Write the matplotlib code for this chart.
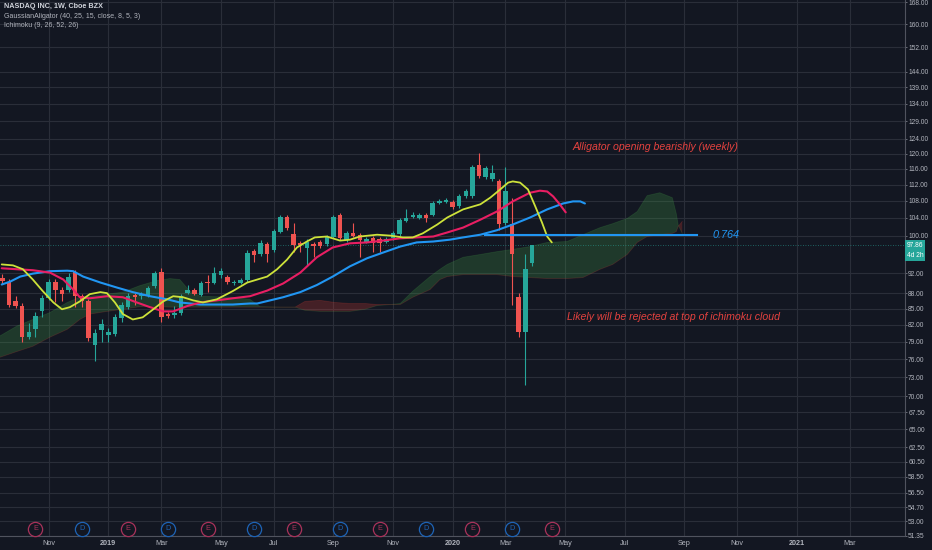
import numpy as np
import pandas as pd
import matplotlib
matplotlib.use('Agg')
import matplotlib.pyplot as plt
import matplotlib.transforms as mtransforms
from matplotlib.ticker import NullLocator

# Weekly NASDAQ INC candles, first bar is the week of 2018-09-17
first_week = '2018-09-17'
origin = pd.Timestamp('2018-09-24')  # x = weeks since this bar

opens = [91.0, 90.3, 86.4, 85.6, 79.9, 81.2, 84.5, 87.1, 90.3, 88.7,
         88.7, 92.3, 87.4, 86.4, 78.5, 81.0, 80.1, 80.3, 83.2, 85.3,
         87.6, 87.4, 87.6, 89.5, 92.3, 84.0, 83.8, 84.2, 88.1, 88.7,
         87.7, 90.3, 90.1, 91.7, 91.3, 90.0, 90.1, 90.7, 96.7, 95.9,
         98.2, 96.9, 100.9, 104.3, 100.4, 98.4, 97.3, 98.2, 98.6, 98.2,
         99.7, 104.7, 99.1, 100.6, 100.2, 98.7, 99.5, 99.3, 98.7, 99.5,
         100.4, 103.4, 104.3, 104.1, 104.8, 104.8, 107.6, 107.8, 107.8, 106.8,
         109.1, 109.1, 116.9, 113.8, 113.3, 112.8, 102.9, 102.7, 87.2, 80.7,
         94.0]
highs = [91.8, 90.8, 87.4, 86.0, 82.3, 84.3, 87.7, 90.8, 90.9, 89.2,
         92.0, 92.7, 87.8, 86.8, 81.3, 83.0, 81.5, 84.0, 86.3, 88.0,
         88.1, 88.3, 89.5, 92.5, 93.0, 84.4, 85.5, 87.8, 89.7, 89.1,
         90.5, 91.7, 93.3, 93.0, 91.7, 90.6, 91.1, 96.8, 97.1, 99.0,
         98.7, 101.5, 104.8, 104.8, 102.9, 98.8, 99.2, 98.7, 99.0, 100.1,
         104.7, 105.2, 101.0, 102.9, 100.6, 99.8, 99.9, 99.7, 99.7, 101.0,
         104.0, 106.2, 105.3, 105.2, 105.2, 108.0, 108.5, 108.8, 108.2, 109.7,
         110.8, 116.9, 120.2, 116.6, 116.9, 113.3, 116.4, 108.8, 88.0, 95.9,
         98.0]
lows = [89.8, 85.4, 85.2, 79.0, 79.4, 79.8, 83.4, 86.6, 86.2, 86.4,
        88.3, 85.3, 85.3, 79.2, 75.6, 79.0, 79.0, 80.0, 82.6, 85.0,
        85.8, 86.9, 87.3, 89.0, 82.6, 83.2, 83.3, 83.9, 87.8, 87.6,
        87.4, 88.3, 89.8, 91.0, 89.9, 89.6, 89.8, 90.3, 94.4, 95.5,
        94.4, 96.5, 100.5, 101.3, 96.5, 96.5, 93.5, 95.4, 97.2, 97.8,
        99.4, 99.1, 98.7, 99.6, 95.4, 98.3, 96.5, 96.5, 98.3, 99.1,
        100.0, 103.0, 103.9, 103.8, 103.1, 104.4, 107.2, 107.4, 106.0, 106.4,
        108.7, 108.7, 113.6, 113.3, 112.8, 101.3, 102.4, 85.8, 79.8, 71.8,
        93.4]
closes = [90.4, 85.8, 85.6, 79.9, 80.8, 83.6, 87.1, 90.3, 88.7, 87.9,
          91.3, 87.4, 86.4, 79.6, 80.6, 82.1, 80.8, 83.4, 85.8, 87.4,
          87.2, 87.9, 89.1, 92.1, 83.4, 83.6, 84.2, 87.4, 88.7, 87.9,
          90.1, 90.1, 92.1, 92.5, 90.3, 90.2, 90.7, 96.3, 95.7, 98.4,
          96.1, 101.1, 104.3, 101.7, 98.0, 98.0, 98.7, 97.7, 97.7, 99.7,
          104.3, 99.5, 100.6, 100.0, 99.1, 99.3, 98.4, 98.4, 99.3, 100.6,
          103.6, 103.9, 104.8, 104.7, 103.9, 107.6, 108.1, 108.3, 106.6, 109.3,
          110.3, 116.4, 114.1, 116.1, 114.8, 102.5, 110.5, 96.1, 80.7, 92.8,
          97.86]
last_price = 97.86

# Gaussian alligator lines (x in weeks, price)
jaw_x = [-1.1, 0.2, 1.7, 3.6, 6.2, 8.8, 9.7, 11.2, 13.8, 16.3,
         18.7, 21.3, 23.9, 25.8, 28.9, 31.4, 33.8, 36.4, 37.5, 41.4,
         44.0, 46.5, 48.9, 51.5, 54.1, 56.5, 59.1, 61.6, 64.1, 66.6,
         68.6, 71.2, 73.7, 76.1, 78.7, 81.3, 83.7, 85.2, 86.3, 87.0]
jaw_y = [89.7, 90.3, 91.3, 91.9, 92.4, 92.5, 92.4, 91.3, 90.1, 89.1,
         88.2, 87.4, 86.8, 86.2, 85.8, 85.8, 85.8, 86.0, 86.0, 87.2,
         88.2, 89.6, 91.3, 93.4, 95.1, 96.3, 97.6, 98.5, 98.7, 99.1,
         99.6, 100.2, 101.2, 102.5, 104.1, 106.0, 107.4, 107.9, 107.9, 107.4]
teeth_x = [-1.1, 1.2, 3.6, 6.2, 8.2, 9.7, 10.7, 12.2, 14.8, 17.2,
           19.3, 21.3, 23.3, 24.8, 26.9, 28.9, 31.4, 33.8, 36.4, 39.0,
           41.4, 44.0, 46.5, 48.9, 51.5, 54.1, 56.5, 59.1, 61.6, 64.1,
           66.2, 68.6, 71.2, 73.7, 76.1, 78.7, 80.2, 81.3, 82.2, 83.2, 84.1]
teeth_y = [93.0, 92.8, 92.6, 92.1, 90.7, 88.7, 87.2, 87.0, 87.4, 87.2,
           86.2, 85.3, 84.5, 84.5, 85.5, 86.2, 86.6, 87.0, 87.4, 88.5,
           89.9, 92.1, 95.3, 97.4, 98.3, 98.5, 98.9, 99.4, 99.6, 99.8,
           100.7, 101.8, 103.6, 105.5, 107.9, 110.0, 110.5, 110.3, 109.1, 107.2, 105.3]
lips_x = [-1.1, 0.6, 2.1, 3.6, 5.1, 6.7, 8.0, 9.2, 10.7, 12.2,
          13.8, 14.8, 16.0, 17.2, 18.7, 20.2, 21.8, 23.3, 24.8, 26.3,
          27.8, 29.3, 31.4, 33.8, 36.0, 37.5, 39.0, 40.5, 42.0, 43.5,
          45.0, 46.2, 48.0, 50.0, 51.5, 53.0, 55.6, 57.6, 59.5, 61.0,
          62.5, 64.7, 66.2, 68.6, 71.2, 72.7, 74.2, 75.4, 76.1, 77.2,
          78.4, 79.5, 80.5, 81.3, 82.0]
lips_y = [93.8, 93.6, 92.8, 90.7, 88.4, 86.2, 84.9, 85.3, 86.4, 87.8,
          88.2, 88.0, 86.2, 84.0, 83.0, 83.4, 84.9, 86.4, 87.4, 87.2,
          86.6, 86.2, 86.8, 88.4, 90.1, 90.7, 91.3, 92.8, 94.8, 97.4,
          98.7, 99.6, 99.8, 98.9, 99.1, 99.8, 100.2, 100.0, 99.6, 99.6,
          100.5, 102.5, 104.1, 106.0, 107.2, 108.8, 110.8, 112.5, 112.8, 112.5,
          110.8, 106.7, 103.0, 99.8, 98.5]

# Ichimoku cloud (leading spans, already shifted forward)
cloud_x = [-1.4, 1.2, 3.6, 6.2, 8.8, 10.7, 12.2, 14.8, 17.2, 19.8,
           22.4, 24.3, 25.8, 27.3, 28.9, 33.8, 36.4, 37.9, 40.9, 43.2,
           44.7, 47.0, 49.2, 51.5, 53.8, 55.6, 57.6, 59.1, 61.0, 63.6,
           65.1, 66.2, 68.6, 71.2, 73.7, 76.1, 78.7, 81.3, 84.3, 86.7,
           89.3, 91.2, 93.4, 94.9, 96.4, 98.3, 100.2, 100.8, 101.1, 101.7]
span_a = [80.0, 81.8, 83.0, 84.3, 86.2, 87.2, 87.4, 87.8, 88.2, 89.5,
          90.5, 90.9, 90.7, 88.4, 87.4, 87.2, 86.8, 85.4, 85.3, 85.3,
          84.7, 84.5, 84.5, 84.5, 84.9, 85.6, 85.8, 86.0, 88.4, 91.3,
          92.8, 93.8, 95.3, 95.9, 96.5, 97.0, 97.6, 98.5, 98.7, 100.2,
          101.8, 102.7, 103.9, 105.5, 109.3, 110.0, 108.8, 105.0, 102.3, 100.5]
span_b = [76.3, 77.3, 78.2, 79.8, 81.2, 83.0, 84.0, 84.5, 84.9, 85.4,
          85.4, 85.3, 85.3, 85.3, 85.3, 85.3, 85.3, 85.3, 85.3, 85.3,
          86.4, 86.6, 86.2, 86.0, 86.0, 85.8, 85.8, 85.8, 87.2, 88.7,
          90.7, 91.3, 91.7, 91.7, 91.7, 91.3, 91.1, 90.9, 90.9, 91.1,
          92.8, 93.8, 95.9, 98.5, 99.8, 100.2, 100.5, 100.9, 102.1, 103.2]

# fib level drawn by the author
fib_level = 100.2
fib_label = '0.764'
fib_x = [71.9, 103.9]

# earnings (E) and dividend (D) events
event_dates = ['2018-10-22', '2018-12-10', '2019-01-28', '2019-03-11', '2019-04-22',
               '2019-06-10', '2019-07-22', '2019-09-09', '2019-10-21', '2019-12-09',
               '2020-01-27', '2020-03-09', '2020-04-20']
event_kinds = ['E', 'D', 'E', 'D', 'E', 'D', 'E', 'D', 'E', 'D', 'E', 'D', 'E']

price_ticks = [168, 160, 152, 144, 139, 134, 129, 124, 120, 116, 112, 108, 104, 100,
               92, 88, 85, 82, 79, 76, 73, 70, 67.5, 65, 62.5, 60.5, 58.5, 56.5,
               54.7, 53, 51.35]

BG = '#131722'
GRID = '#2a2e39'
TXT = '#b2b5be'
UP = '#26a69a'
DOWN = '#ef5350'

plt.rcParams['font.family'] = ['Liberation Sans', 'DejaVu Sans']


def to_week(d):
    return (pd.Timestamp(d) - origin).days / 7.0


weeks = pd.date_range(first_week, periods=len(opens), freq='7D')
x = np.array([(w - origin).days / 7.0 for w in weeks])
o = np.array(opens)
h = np.array(highs)
l = np.array(lows)
c = np.array(closes)

fig = plt.figure(figsize=(9.32, 5.5), dpi=100, facecolor=BG)
ax = fig.add_axes([0, 14 / 550, 905 / 932, 536 / 550])
ax.set_facecolor(BG)
ax.set_yscale('log')
ax.set_ylim(51.3, 168.8)
ax.set_xlim(-1.36, 135.35)

# cloud
a = np.array(span_a)
b = np.array(span_b)
ax.fill_between(cloud_x, a, b, where=a >= b, interpolate=True, color='#43a047', alpha=0.25, lw=0, zorder=1)
ax.fill_between(cloud_x, a, b, where=a < b, interpolate=True, color='#f44336', alpha=0.22, lw=0, zorder=1)
ax.plot(cloud_x, a, color='#43a047', alpha=0.2, lw=0.6, zorder=1)
ax.plot(cloud_x, b, color='#f44336', alpha=0.18, lw=0.6, zorder=1)

# candles
cols = np.where(c >= o, UP, DOWN)
ax.vlines(x, l, h, colors=cols, lw=0.8, zorder=3)
body_lo = np.minimum(o, c)
body_h = np.maximum(np.abs(c - o), 0.2)
ax.bar(x, body_h, bottom=body_lo, width=0.68, color=cols, lw=0, zorder=4)

# last price line
ax.axhline(last_price, color=UP, lw=0.6, ls=(0, (1, 2)), alpha=0.7, zorder=2)

# alligator
ax.plot(jaw_x, jaw_y, color='#2196f3', lw=1.5, zorder=5, solid_capstyle='round')
ax.plot(teeth_x, teeth_y, color='#e91e63', lw=1.5, zorder=5, solid_capstyle='round')
ax.plot(lips_x, lips_y, color='#cde23a', lw=1.3, zorder=5, solid_capstyle='round')

# fib line + text
ax.plot(fib_x, [fib_level, fib_level], color='#2196f3', lw=1.5, zorder=6)
ax.text(106.3, fib_level, fib_label, color='#2196f3', fontsize=7.8, style='italic',
        va='center', ha='left', zorder=6)

ax.text(85.2, 121.8, 'Alligator opening bearishly (weekly)', color='#e5423f',
        fontsize=7.6, style='italic', va='center', ha='left', zorder=6)
ax.text(84.3, 83.4, 'Likely will be rejected at top of ichimoku cloud', color='#e5423f',
        fontsize=7.6, style='italic', va='center', ha='left', zorder=6)

# event markers
trans = mtransforms.blended_transform_factory(ax.transData, ax.transAxes)
ev_x = [to_week(d) for d in event_dates]
for ex, kind in zip(ev_x, event_kinds):
    col = '#a8325a' if kind == 'E' else '#1e63b5'
    ax.scatter([ex], [0.0135], s=105, transform=trans, facecolor=BG, edgecolor=col,
               lw=0.9, zorder=7, clip_on=False)
    ax.text(ex, 0.0135, kind, transform=trans, color=col, fontsize=5.2,
            ha='center', va='center', zorder=8)

# axes styling
ax.yaxis.tick_right()
ax.set_yticks(price_ticks)
ax.set_yticklabels(['%.2f' % v for v in price_ticks])
ax.yaxis.set_minor_locator(NullLocator())
ax.tick_params(axis='y', which='major', length=1.5, width=0.6, color='#787b86',
               labelsize=4.8, labelcolor=TXT, pad=0.8)

month_pos = []
month_lab = []
for ym in ['2018-11', '2019-01', '2019-03', '2019-05', '2019-07', '2019-09', '2019-11',
           '2020-01', '2020-03', '2020-05', '2020-07', '2020-09', '2020-11',
           '2021-01', '2021-03']:
    d = pd.Timestamp(ym + '-01')
    d = d + pd.Timedelta(days=(-d.weekday()) % 7)
    month_pos.append(to_week(d))
    month_lab.append(str(d.year) if d.month == 1 else d.strftime('%b'))
ax.set_xticks(month_pos)
ax.set_xticklabels(month_lab)
ax.xaxis.set_minor_locator(NullLocator())
ax.tick_params(axis='x', length=0, labelsize=5.2, labelcolor=TXT, pad=3)
for t in ax.get_xticklabels():
    if t.get_text().isdigit():
        t.set_fontweight('bold')

ax.grid(True, color=GRID, lw=0.8)
ax.set_axisbelow(True)
for s in ['top', 'left']:
    ax.spines[s].set_visible(False)
for s in ['right', 'bottom']:
    ax.spines[s].set_color('#50535e')
    ax.spines[s].set_linewidth(0.8)

# price labels on the axis
ytrans = mtransforms.blended_transform_factory(ax.transAxes, ax.transData)
ax.text(1.002, last_price, '%.2f' % last_price, transform=ytrans, ha='left', va='center',
        fontsize=4.8, color='white', clip_on=False, zorder=9,
        bbox=dict(boxstyle='square,pad=0.3', fc=UP, ec='none'))
ax.text(1.002, last_price, '4d 2h', transform=mtransforms.offset_copy(ytrans, fig=fig, x=0, y=-10, units='dots'),
        ha='left', va='center', fontsize=4.8, color='white', clip_on=False, zorder=9,
        bbox=dict(boxstyle='square,pad=0.3', fc=UP, ec='none'))

# legend header
fig.text(4 / 932, 1 - 7 / 550, 'NASDAQ INC, 1W, Cboe BZX', color='#d1d4dc', fontsize=5.2,
         fontweight='bold', va='center', ha='left')
fig.text(4 / 932, 1 - 16.5 / 550, 'GaussianAligator (40, 25, 15, close, 8, 5, 3)', color=TXT,
         fontsize=5.0, va='center', ha='left')
fig.text(4 / 932, 1 - 25.5 / 550, 'Ichimoku (9, 26, 52, 26)', color=TXT,
         fontsize=5.0, va='center', ha='left')

fig.savefig('out.png', dpi=100, facecolor=BG)
